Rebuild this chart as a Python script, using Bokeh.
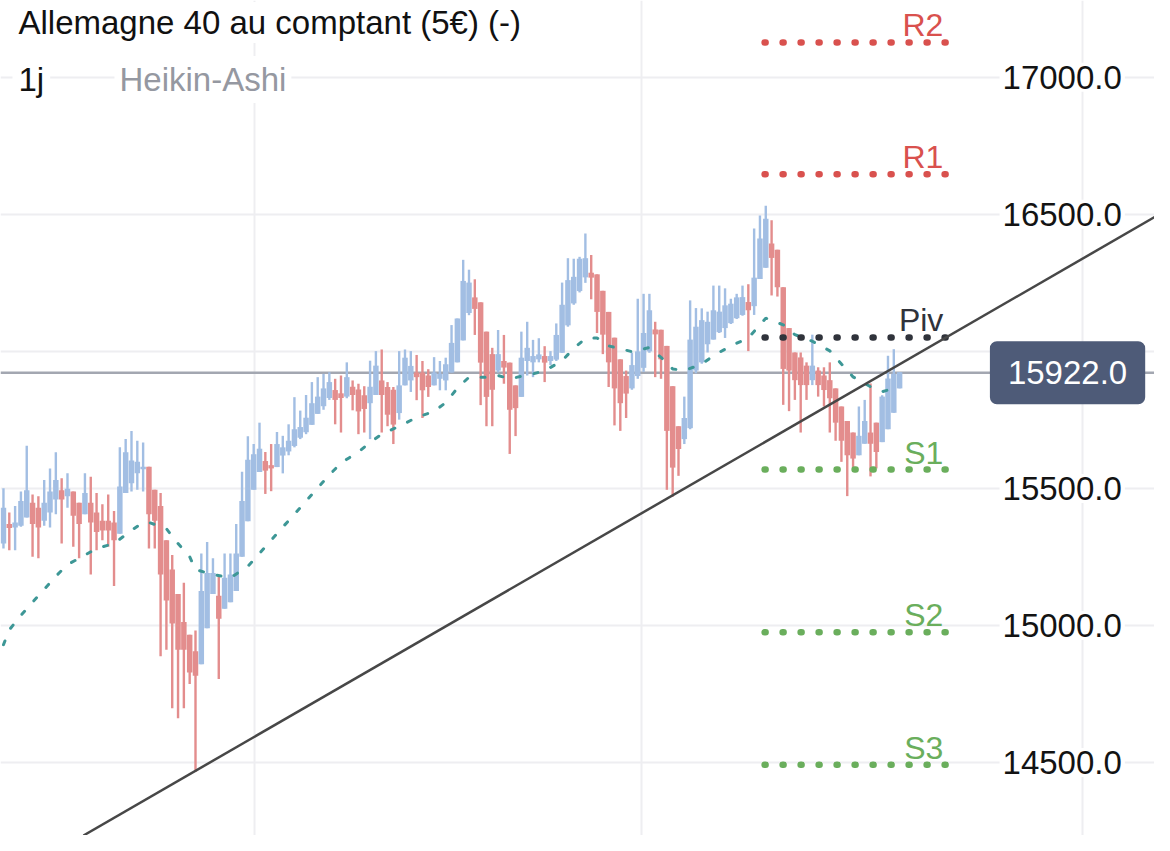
import numpy as np
from bokeh.plotting import figure
from bokeh.models import Range1d, FixedTicker, Span, Slope, Label, Grid, ColumnDataSource
from bokeh.embed import file_html
from bokeh.resources import INLINE
from bokeh.core.properties import value

# ---------------- data ----------------
title_text = "Allemagne 40 au comptant (5€) (-)"
interval_text = "1j"
style_text = "Heikin-Ashi"

ha_open = [15299, 15370, 15358, 15364, 15394, 15448, 15430, 15382, 15412, 15460,
           15493, 15472, 15489, 15448, 15406, 15448, 15412, 15382, 15382, 15376,
           15335, 15483, 15519, 15555, 15570, 15579, 15495, 15436, 15311, 15204,
           15115, 15013, 14966, 14906, 14859, 14990, 15115, 15109, 15061, 15085,
           15126, 15251, 15380, 15495, 15560, 15600, 15585, 15578, 15620, 15635,
           15655, 15685, 15705, 15732, 15772, 15800, 15830, 15859, 15847, 15835,
           15871, 15861, 15840, 15811, 15841, 15894, 15870, 15860, 15775, 15876,
           15894, 15923, 15923, 15912, 15876, 15900, 15894, 15923, 15960, 16040,
           16140, 16197, 16179, 16072, 15990, 15930, 15965, 15959, 15876, 15834,
           15965, 15960, 15971, 15983, 15965, 15970, 15995, 16095, 16175, 16220,
           16270, 16287, 16281, 16221, 16144, 16050, 15971, 15910, 15865, 15910,
           15940, 16000, 16080, 16079, 16020, 15873, 15727, 15680, 15720, 15930,
           15960, 16026, 16043, 16070, 16085, 16103, 16121, 16133, 16180, 16165,
           16264, 16305, 16394, 16371, 16234, 16085, 15996, 15978, 15948, 15895,
           15930, 15912, 15895, 15865, 15799, 15746, 15704, 15621, 15663, 15704,
           15740, 15669, 15716, 15776, 15865]
ha_close = [15430, 15356, 15376, 15454, 15493, 15370, 15358, 15448, 15489, 15531,
            15460, 15499, 15400, 15370, 15483, 15376, 15341, 15347, 15347, 15311,
            15507, 15632, 15602, 15597, 15579, 15406, 15382, 15186, 15091, 15007,
            14912, 14912, 14829, 14817, 15126, 15192, 15192, 15025, 15174, 15186,
            15263, 15454, 15605, 15625, 15645, 15565, 15573, 15662, 15650, 15674,
            15716, 15724, 15758, 15811, 15835, 15865, 15888, 15823, 15830, 15906,
            15841, 15781, 15790, 15871, 15948, 15841, 15769, 15733, 15876, 15977,
            15947, 15906, 15858, 15870, 15923, 15918, 15953, 16031, 16120, 16257,
            16251, 16155, 15959, 15834, 15860, 15990, 15941, 15787, 15793, 15977,
            16013, 15983, 15989, 15959, 15983, 16060, 16170, 16260, 16272, 16338,
            16340, 16269, 16144, 16061, 15960, 15865, 15811, 15846, 15950, 16000,
            16067, 16150, 16062, 15971, 15710, 15576, 15644, 15757, 16043, 16090,
            16114, 16108, 16150, 16145, 16168, 16174, 16197, 16198, 16150, 16269,
            16412, 16484, 16341, 16234, 15936, 15930, 15895, 15877, 15877, 15948,
            15877, 15859, 15829, 15740, 15674, 15621, 15609, 15692, 15746, 15663,
            15633, 15835, 15901, 15918, 15924]
ha_high = [15501, 15412, 15436, 15489, 15656, 15478, 15472, 15531, 15573, 15632,
           15537, 15555, 15489, 15448, 15555, 15543, 15483, 15442, 15478, 15418,
           15650, 15680, 15710, 15674, 15668, 15579, 15495, 15483, 15311, 15257,
           15115, 15156, 14966, 14982, 15263, 15305, 15245, 15180, 15263, 15263,
           15370, 15561, 15690, 15662, 15740, 15633, 15662, 15706, 15692, 15734,
           15833, 15784, 15841, 15888, 15906, 15918, 15924, 15900, 15912, 15960,
           15894, 15882, 15873, 15966, 16001, 16007, 15888, 15870, 16001, 16007,
           16001, 15987, 15965, 15935, 15979, 15965, 15977, 16096, 16120, 16334,
           16298, 16263, 16179, 16072, 16013, 16078, 16060, 15959, 15876, 16072,
           16108, 16042, 16048, 16019, 16001, 16102, 16251, 16340, 16338, 16345,
           16430, 16352, 16281, 16221, 16144, 16050, 15971, 15930, 15996, 16192,
           16210, 16210, 16108, 16079, 16020, 15873, 15727, 15835, 16186, 16158,
           16157, 16145, 16240, 16240, 16230, 16192, 16210, 16240, 16245, 16448,
           16496, 16531, 16478, 16371, 16234, 16085, 15996, 15996, 15960, 16061,
           15942, 15942, 15960, 15865, 15799, 15746, 15704, 15799, 15823, 15883,
           15740, 15840, 15984, 16008, 15924]
ha_low = [15281, 15275, 15275, 15360, 15394, 15251, 15245, 15364, 15358, 15406,
          15299, 15430, 15287, 15245, 15406, 15186, 15275, 15311, 15287, 15144,
          15335, 15483, 15489, 15495, 15489, 15281, 15281, 14888, 14912, 14698,
          14662, 14698, 14787, 14466, 14859, 14990, 15115, 14805, 15061, 15085,
          15126, 15251, 15380, 15495, 15560, 15480, 15490, 15578, 15555, 15621,
          15650, 15680, 15698, 15732, 15772, 15787, 15823, 15734, 15704, 15829,
          15785, 15698, 15704, 15680, 15841, 15704, 15727, 15662, 15751, 15876,
          15852, 15822, 15757, 15834, 15876, 15858, 15858, 15923, 15960, 16040,
          16132, 16060, 15804, 15727, 15727, 15923, 15882, 15626, 15691, 15834,
          15912, 15906, 15960, 15888, 15950, 15965, 15995, 16090, 16170, 16215,
          16250, 16190, 16067, 15990, 15870, 15730, 15710, 15757, 15860, 15900,
          15925, 15995, 15906, 15900, 15495, 15470, 15546, 15662, 15716, 15920,
          15955, 15996, 16043, 16067, 16049, 16100, 16118, 16130, 16001, 16133,
          16264, 16305, 16204, 16200, 15805, 15782, 15823, 15704, 15823, 15877,
          15835, 15799, 15704, 15674, 15597, 15472, 15573, 15621, 15663, 15544,
          15573, 15669, 15716, 15776, 15865]

# dotted moving average: (candle index, value)
ma_idx = [0, 1, 3, 5, 7, 9, 11, 14, 16, 19, 22, 24, 25, 28, 30, 32, 33, 36, 39, 42,
          44, 46, 48, 50, 52, 54, 56, 58, 61, 63, 65, 68, 71, 74, 76, 78, 80, 83, 85, 87,
          91, 93, 96, 98, 100, 102, 104, 108, 111, 113, 115, 117, 120, 122, 125, 128, 130,
          131, 134, 136, 139, 142, 144, 146, 149, 151, 153]
ma_val = [14930, 14984, 15037, 15085, 15132, 15180, 15222, 15257, 15281, 15299,
          15347, 15376, 15376, 15353, 15299, 15251, 15204, 15186, 15174, 15216,
          15263, 15311, 15359, 15406, 15454, 15502, 15549, 15593, 15633, 15668,
          15698, 15727, 15759, 15781, 15813, 15866, 15906, 15906, 15912, 15900,
          15918, 15929, 15966, 16011, 16047, 16049, 16020, 15999, 16014, 15978,
          15936, 15930, 15954, 15984, 16020, 16049, 16097, 16121, 16097, 16061,
          16037, 16002, 15954, 15907, 15871, 15853, 15865]

# pivot levels
pivot_names = ["R2", "R1", "Piv", "S1", "S2", "S3"]
pivot_levels = [17127, 16646, 16051, 15569, 14975, 14492]
pivot_colors = ["#d9514e", "#d9514e", "#30333b", "#6aae5c", "#6aae5c", "#6aae5c"]
pivot_span = [130.8, 162.2]          # candle index where pivot lines start / end

# trend line through two candle lows
trend_idx = [33, 115]
trend_val = [14470, 15475]

last_price = 15922
price_ticks = [14500, 15000, 15500, 16000, 16500, 17000]
label_ticks = [14500, 15000, 15500, 16500, 17000]
month_ticks = [43.2, 109.7, 185.4]   # quarter boundaries (candle index)

x_view = [-0.51, 197.8]
y_view = [14234, 17280]

# ---------------- styles ----------------
BLUE = "#a2bee3"
RED = "#e38d8d"
TEAL = "#3d9796"
TREND = "#474747"
PRICE_LINE = "#a3a7b1"
GRID = "#eeeef1"
BOX = "#4e5b78"
FONT = "Liberation Sans"

W, H = 1154, 835

p = figure(width=W, height=H, output_backend="svg", toolbar_location=None,
           x_range=Range1d(*x_view), y_range=Range1d(*y_view),
           x_axis_location=None, y_axis_location=None,
           min_border=0, outline_line_color=None)
p.background_fill_color = "white"
p.border_fill_color = "white"

# remove any default grids, then add our own
p.center = [r for r in p.center if not isinstance(r, Grid)]
p.add_layout(Grid(dimension=0, ticker=FixedTicker(ticks=month_ticks, minor_ticks=[]),
                  grid_line_color=GRID, grid_line_width=2))
p.add_layout(Grid(dimension=1, ticker=FixedTicker(ticks=price_ticks, minor_ticks=[]),
                  grid_line_color=GRID, grid_line_width=2))

p.add_layout(Span(location=last_price, dimension="width", line_color=PRICE_LINE,
                  line_width=2.5, level="underlay"))

o = np.array(ha_open, dtype=float)
c = np.array(ha_close, dtype=float)
idx = np.arange(len(o))
colors = np.where(c >= o, BLUE, RED)
src = ColumnDataSource(dict(x=idx, top=np.maximum(o, c), bottom=np.minimum(o, c),
                            high=ha_high, low=ha_low, color=colors))
p.segment(x0="x", y0="low", x1="x", y1="high", line_color="color", line_width=2.4, source=src)
p.vbar(x="x", width=0.94, top="top", bottom="bottom", fill_color="color",
       line_color=None, source=src)

p.line(ma_idx, ma_val, line_color=TEAL, line_width=3, line_dash="4 14", line_cap="round")

# trend line
g = (trend_val[1] - trend_val[0]) / (trend_idx[1] - trend_idx[0])
b = trend_val[0] - g * trend_idx[0]
p.add_layout(Slope(gradient=g, y_intercept=b, line_color=TREND, line_width=2.5))

# pivot lines and names
n = len(pivot_levels)
for lvl, col in zip(pivot_levels, pivot_colors):
    p.line(x=pivot_span, y=[lvl, lvl], line_color=col, line_width=6.5,
           line_cap="round", line_dash="1 17")
p.text(x=[pivot_span[1]] * n, y=pivot_levels, text=pivot_names, text_color=pivot_colors,
       text_align="right", text_baseline="alphabetic", x_offset=-4, y_offset=-17,
       text_font=value(FONT), text_font_size="32px")

# price labels (drawn over the chart, right side)
lab_x = 192.7
for t in label_ticks:
    p.add_layout(Label(x=lab_x, y=t, text=f"{t:.1f}", text_align="right",
                       text_baseline="middle", text_font=FONT, text_font_size="33px",
                       text_color="#131313", background_fill_color="white", padding=3))
p.add_layout(Label(x=196.2, y=last_price, text=f"{last_price:.1f}", text_align="right",
                   text_baseline="middle", text_font=FONT, text_font_size="33px",
                   text_color="white", background_fill_color=BOX, border_radius=7,
                   padding=(18, 20)))

# header texts
p.add_layout(Label(x=16, y=H - 22, x_units="screen", y_units="screen", text=title_text,
                   text_baseline="middle", text_font=FONT, text_font_size="33px",
                   text_color="#111111", background_fill_color="white", padding=2))
p.add_layout(Label(x=12, y=H - 79, x_units="screen", y_units="screen", text=interval_text,
                   text_baseline="middle", text_font=FONT, text_font_size="33px",
                   text_color="#111111", background_fill_color="white", padding=6))
p.add_layout(Label(x=114, y=H - 79, x_units="screen", y_units="screen", text=style_text,
                   text_baseline="middle", text_font=FONT, text_font_size="33px",
                   text_color="#9598a1", background_fill_color="white", padding=5))

open("out.html", "w").write(file_html(p, INLINE))
